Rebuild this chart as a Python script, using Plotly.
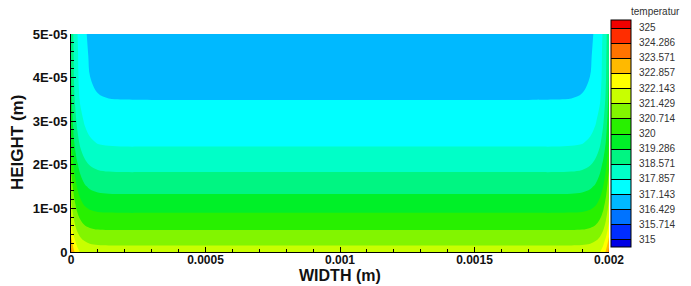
import plotly.graph_objects as go

# ---- data ----
x_m = [0, 5e-6, 1.2e-5, 2.2e-5, 3.5e-5, 5e-5, 7e-5, 1e-4, 1.4e-4, 2e-4, 3e-4,
       1e-3,
       1.7e-3, 1.8e-3, 1.86e-3, 1.9e-3, 1.93e-3, 1.95e-3, 1.965e-3, 1.978e-3, 1.988e-3, 1.995e-3, 2e-3]
y_m = [0, 0.25e-5, 0.5e-5, 0.75e-5, 1.0e-5, 1.5e-5, 2.0e-5, 2.5e-5, 3.0e-5, 3.5e-5, 4.0e-5, 4.5e-5, 5.0e-5]

temperature = [
    [323.90, 323.41, 322.91, 322.43, 322.08, 321.88, 321.77, 321.71, 321.70, 321.70, 321.70, 321.70, 321.70, 321.70, 321.70, 321.71, 321.77, 321.88, 322.08, 322.43, 322.91, 323.41, 323.90],
    [323.10, 322.72, 322.31, 321.91, 321.61, 321.43, 321.32, 321.27, 321.25, 321.25, 321.25, 321.25, 321.25, 321.25, 321.25, 321.27, 321.32, 321.43, 321.61, 321.91, 322.31, 322.72, 323.10],
    [322.50, 322.15, 321.78, 321.40, 321.11, 320.92, 320.81, 320.74, 320.72, 320.72, 320.72, 320.72, 320.72, 320.72, 320.72, 320.74, 320.81, 320.92, 321.11, 321.40, 321.78, 322.15, 322.50],
    [322.05, 321.72, 321.36, 320.99, 320.69, 320.49, 320.36, 320.29, 320.27, 320.26, 320.26, 320.26, 320.26, 320.26, 320.27, 320.29, 320.36, 320.49, 320.69, 320.99, 321.36, 321.72, 322.05],
    [321.70, 321.37, 321.00, 320.63, 320.31, 320.09, 319.95, 319.86, 319.83, 319.82, 319.82, 319.82, 319.82, 319.82, 319.83, 319.86, 319.95, 320.09, 320.31, 320.63, 321.00, 321.37, 321.70],
    [321.15, 320.80, 320.40, 319.99, 319.62, 319.37, 319.19, 319.07, 319.02, 319.01, 319.01, 319.01, 319.01, 319.01, 319.02, 319.07, 319.19, 319.37, 319.62, 319.99, 320.40, 320.80, 321.15],
    [320.60, 320.24, 319.84, 319.40, 319.02, 318.75, 318.55, 318.42, 318.37, 318.35, 318.35, 318.35, 318.35, 318.35, 318.37, 318.42, 318.55, 318.75, 319.02, 319.40, 319.84, 320.24, 320.60],
    [320.10, 319.72, 319.30, 318.84, 318.45, 318.16, 317.96, 317.83, 317.78, 317.76, 317.76, 317.76, 317.76, 317.76, 317.78, 317.83, 317.96, 318.16, 318.45, 318.84, 319.30, 319.72, 320.10],
    [319.80, 319.40, 318.95, 318.48, 318.08, 317.80, 317.61, 317.49, 317.44, 317.43, 317.43, 317.43, 317.43, 317.43, 317.44, 317.49, 317.61, 317.80, 318.08, 318.48, 318.95, 319.40, 319.80],
    [319.55, 319.13, 318.66, 318.17, 317.76, 317.49, 317.30, 317.19, 317.15, 317.14, 317.135, 317.135, 317.135, 317.14, 317.15, 317.19, 317.30, 317.49, 317.76, 318.17, 318.66, 319.13, 319.55],
    [319.35, 318.95, 318.50, 318.03, 317.63, 317.35, 317.15, 317.02, 316.97, 316.96, 316.96, 316.96, 316.96, 316.96, 316.97, 317.02, 317.15, 317.35, 317.63, 318.03, 318.50, 318.95, 319.35],
    [319.20, 318.85, 318.44, 317.99, 317.60, 317.30, 317.08, 316.92, 316.86, 316.83, 316.83, 316.83, 316.83, 316.83, 316.86, 316.92, 317.08, 317.30, 317.60, 317.99, 318.44, 318.85, 319.20],
    [319.10, 318.76, 318.36, 317.93, 317.54, 317.24, 317.01, 316.85, 316.77, 316.75, 316.75, 316.75, 316.75, 316.75, 316.77, 316.85, 317.01, 317.24, 317.54, 317.93, 318.36, 318.76, 319.10],
]

level_values = [315, 315.714, 316.429, 317.143, 317.857, 318.571, 319.286, 320,
                320.714, 321.429, 322.143, 322.857, 323.571, 324.286, 325]
level_labels = ["315", "315.714", "316.429", "317.143", "317.857", "318.571", "319.286", "320",
                "320.714", "321.429", "322.143", "322.857", "323.571", "324.286", "325"]

x_tick_vals = [0, 0.0005, 0.001, 0.0015, 0.002]
x_tick_text = ["0", "0.0005", "0.001", "0.0015", "0.002"]
y_tick_vals = [0, 1e-5, 2e-5, 3e-5, 4e-5, 5e-5]
y_tick_text = ["0", "1E-05", "2E-05", "3E-05", "4E-05", "5E-05"]

band_colors = ["#0000E6", "#002DFF", "#0073FF", "#00B9FF", "#00FFFF", "#00FFC8", "#00F582", "#00F028",
               "#28F000", "#82F500", "#C8FF00", "#FFFF00", "#FFB900", "#FF7300", "#FF2D00", "#F00000"]

# ---- figure ----
W, H = 691, 286
L, R, T, B = 71, 82, 34, 34
pw, ph = W - L - R, H - T - B

def px_x(p):
    return (p - L) / pw

def px_y(p):
    return (H - B - p) / ph

n = len(band_colors)
colorscale = [[i / (n - 1), c] for i, c in enumerate(band_colors)]
contours = dict(start=level_values[0], end=level_values[-1],
                size=(level_values[-1] - level_values[0]) / (len(level_values) - 1),
                coloring="fill")

FONT = "Liberation Sans, Arial, sans-serif"

fig = go.Figure()
fig.add_trace(go.Contour(
    x=x_m, y=y_m, z=temperature,
    autocontour=False, contours=dict(contours, showlines=False),
    colorscale=colorscale, showscale=False, line=dict(width=0),
    hoverinfo="skip",
))
# legend carrier (outside the visible ranges) so the colour bar gets dividing lines
fig.add_trace(go.Contour(
    x=[1, 2], y=[1, 2], z=[[level_values[0], level_values[-1]], [level_values[0], level_values[-1]]],
    autocontour=False, contours=dict(contours, showlines=True),
    colorscale=colorscale, line=dict(color="#000000", width=1),
    hoverinfo="skip",
    colorbar=dict(
        x=px_x(611), xanchor="left", xpad=0,
        y=px_y(20), yanchor="top", ypad=0,
        lenmode="pixels", len=227.3, thickness=20,
        outlinewidth=1, outlinecolor="#000000",
        tickmode="array", tickvals=level_values, ticktext=level_labels,
        ticks="outside", ticklen=6, tickcolor="rgba(0,0,0,0)",
        tickfont=dict(family=FONT, size=10, color="#333333"),
    ),
))

axis_common = dict(
    showgrid=False, zeroline=False, showline=True, linecolor="#000000", linewidth=1,
    ticks="inside", ticklen=5, tickwidth=1, tickcolor="#000000",
    tickfont=dict(family=FONT, size=12, color="#111111", weight="bold"),
    tickmode="array",
)
fig.update_xaxes(axis_common, range=[0, 0.002], tickvals=x_tick_vals, ticktext=x_tick_text,
                 ticklabelstandoff=-3,
                 minor=dict(dtick=0.0001, tick0=0, ticks="inside", ticklen=3, tickcolor="#000000"))
fig.update_yaxes(axis_common, range=[0, 5e-5], tickvals=y_tick_vals, ticktext=y_tick_text,
                 tickfont=dict(family=FONT, size=13, color="#111111", weight="bold"),
                 minor=dict(dtick=0.2e-5, tick0=0, ticks="inside", ticklen=3, tickcolor="#000000"))

fig.add_annotation(text="WIDTH (m)", xref="paper", yref="paper",
                   x=px_x(340), y=px_y(275), xanchor="center", yanchor="middle", borderpad=0,
                   showarrow=False, font=dict(family=FONT, size=16, color="#111111", weight="bold"))
fig.add_annotation(text="HEIGHT (m)", xref="paper", yref="paper", textangle=-90,
                   x=px_x(17), y=px_y(143), xanchor="center", yanchor="middle", borderpad=0,
                   showarrow=False, font=dict(family=FONT, size=17, color="#111111", weight="bold"))
fig.add_annotation(text="temperatur", xref="paper", yref="paper",
                   x=px_x(629), y=px_y(12), xanchor="left", yanchor="middle",
                   showarrow=False, font=dict(family=FONT, size=10, color="#333333"))

fig.update_layout(
    width=W, height=H, margin=dict(l=L, r=R, t=T, b=B, pad=0, autoexpand=False),
    paper_bgcolor="white", plot_bgcolor="white", showlegend=False,
)

fig.write_html("out.html", config={"displayModeBar": False, "staticPlot": True},
               post_script="document.body.style.margin='0';document.body.style.padding='0';")
